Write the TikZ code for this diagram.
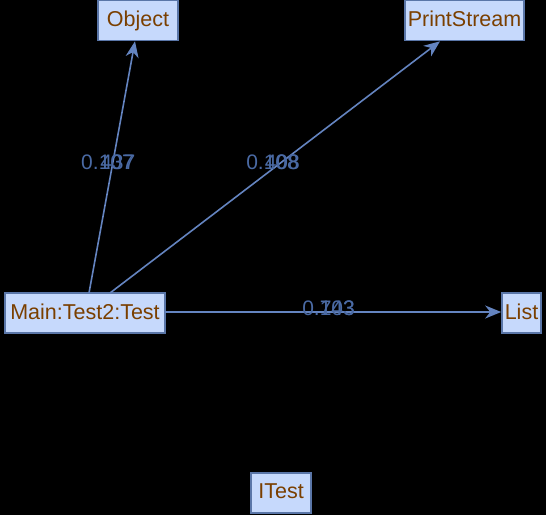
\documentclass[tikz,border=0pt]{standalone}
\usepackage{fontspec}
\setmainfont{Liberation Sans}
\usetikzlibrary{arrows.meta}
\definecolor{boxfill}{HTML}{C6D9FC}
\definecolor{boxline}{HTML}{5A76A8}
\definecolor{boxtext}{HTML}{7A3F00}
\definecolor{edgecol}{HTML}{6484C0}
\definecolor{labcol}{HTML}{4A6AA4}
\newcommand{\up}[1]{\raisebox{3pt}{#1}}
\tikzset{
  cls/.style={draw=boxline, fill=boxfill, line width=1.6pt, text=boxtext,
    font=\fontsize{21.5}{24}\selectfont, minimum height=40pt, inner xsep=1pt, inner ysep=0pt, anchor=center},
  dep/.style={draw=edgecol, line width=1.6pt, -{Stealth[length=16pt, width=13pt, inset=5pt]}},
  lab/.style={text=labcol, font=\fontsize{21}{23}\selectfont, inner sep=0pt, anchor=east}
}
\begin{document}
\begin{tikzpicture}[x=1pt, y=-1pt]
\fill[black] (0,0) rectangle (546,515);
\useasboundingbox (0,0) rectangle (546,515);
\node[cls, minimum width=80pt] (obj) at (138,20.5) {\up{Object}};
\node[cls, minimum width=119pt] (ps) at (464.5,20.5) {\up{PrintStream}};
\node[cls, minimum width=160pt] (main) at (85,313) {\up{Main:Test2:Test}};
\node[cls, minimum width=39pt] (list) at (521.5,313) {\up{List}};
\node[cls, minimum width=60pt] (itest) at (281,493) {\up{ITest}};
\coordinate (m1) at (89,293);
\coordinate (m2) at (110,293);
\coordinate (m3) at (165,312);
\draw[dep] (m1) -- (obj.south -| 135,0);
\draw[dep] (m2) -- (ps.south -| 440,0);
\draw[dep] (m3) -- (list.west |- 0,312);
\node[lab] (l1a) at (134,162) {0.107};
\node[lab] (l1b) at (135.5,162) {437};
\node[lab] (l2a) at (299,162) {0.108};
\node[lab] (l2b) at (300,162) {408};
\node[lab] (l3a) at (355,308) {0.143};
\node[lab] (l3b) at (355,308) {703};
\end{tikzpicture}
\end{document}
